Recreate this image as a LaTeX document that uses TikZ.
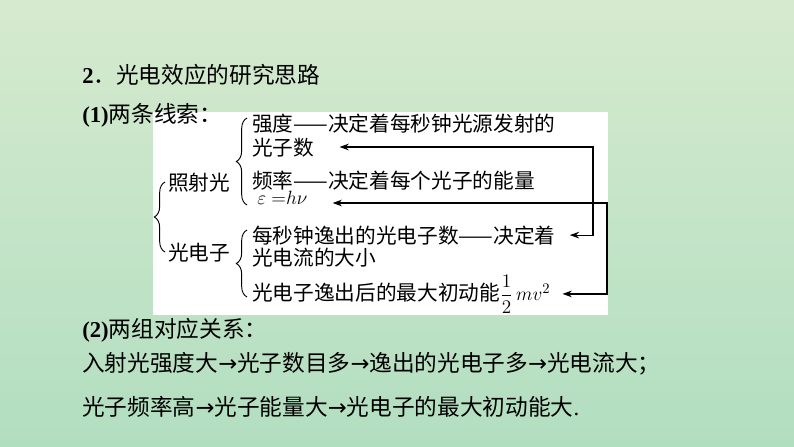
\documentclass[tikz,border=0pt]{standalone}
\usepackage{fontspec}
\usepackage{amsmath}
\setmainfont{Liberation Serif}
\newfontfamily\cjk{Noto Sans CJK SC}
\newfontfamily\sym{DejaVu Sans}
\usetikzlibrary{positioning,decorations.pathreplacing,arrows.meta}
\definecolor{bgtop}{RGB}{214,234,207}
\definecolor{bgbot}{RGB}{178,222,192}

\tikzset{
    rowtext/.style={font=\fontsize{17pt}{20pt}\selectfont\cjk, anchor=base west, inner sep=0pt},
    entry/.style={font=\fontsize{15.5pt}{18pt}\selectfont\cjk, anchor=base west, inner sep=0pt},
    curly/.style={decorate, decoration={brace, amplitude=#1}, line width=0.7pt},
    link/.style={{Stealth[length=7pt,width=5pt]}-{Stealth[length=7pt,width=5pt]}, line width=0.9pt},
}

\begin{document}
\begin{tikzpicture}[x=0.75pt,y=-0.75pt]
    \shade[top color=bgtop, bottom color=bgbot] (0,0) rectangle (794,447);
    \useasboundingbox (0,0) rectangle (794,447);
    \fill[white] (153,112) rectangle (608,315);

    \node[rowtext] (title) at (82,83) {{\rmfamily\bfseries 2}．光电效应的研究思路};
    \node[rowtext] (clue) at (82,122) {{\rmfamily\bfseries (1)}两条线索：};

    % the two heads
    \node[entry] (zsg) at (168,190) {照射光};
    \node[entry] (gdz) at (168,260) {光电子};

    \node[entry] (qd) at (252,131) {强度——决定着每秒钟光源发射的};
    \node[entry, below=18pt of qd.base west, anchor=base west] (gzs) {光子数};
    \node[entry, below=24.75pt of gzs.base west, anchor=base west] (pl) {频率——决定着每个光子的能量};
    \node[entry, below=12.5pt of pl.base west, anchor=base west, xshift=3.75pt] (eps) {$\varepsilon\;{=}h\nu$};

    \node[entry] (mm) at (252,243) {每秒钟逸出的光电子数——决定着};
    \node[entry, below=16.5pt of mm.base west, anchor=base west] (dl) {光电流的大小};
    \node[entry, below=26.25pt of dl.base west, anchor=base west] (ek) {光电子逸出后的最大初动能$\dfrac{1}{2}\,mv^{2}$};

    % braces
    \draw[curly=8pt] (165,252) -- (165,182);
    \draw[curly=8pt] (247,205) -- (247,118);
    \draw[curly=8pt] (247,297) -- (247,230);

    \coordinate (r1) at (593,147);
    \coordinate (r2) at (607,203);
    \draw[link, shorten <=18.75pt, shorten >=10.5pt] (gzs.east |- r1) -- (r1) |- (mm.east);
    \draw[link, shorten <=18.75pt, shorten >=9pt] (eps.east |- r2) -- (r2) |- (ek.east);

    \node[rowtext] (pair) at (82,337) {{\rmfamily\bfseries (2)}两组对应关系：};
    \node[rowtext] (rowa) at (82,371) {入射光强度大{\sym →}光子数目多{\sym →}逸出的光电子多{\sym →}光电流大；};
    \node[rowtext] (rowb) at (82,415) {光子频率高{\sym →}光子能量大{\sym →}光电子的最大初动能大{\rmfamily .}};
\end{tikzpicture}
\end{document}
